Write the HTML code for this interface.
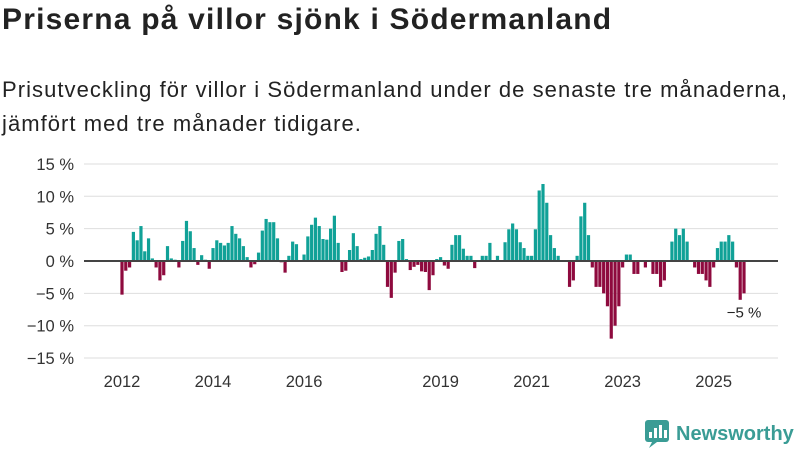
<!DOCTYPE html>
<html><head><meta charset="utf-8">
<style>
body{margin:0;background:#fff;width:800px;height:450px;overflow:hidden;font-family:"Liberation Sans",sans-serif;color:#222}
#title{position:absolute;left:2px;top:3px;font-size:30px;font-weight:bold;margin:0;letter-spacing:1.2px}
#sub{position:absolute;left:2px;top:73px;font-size:22px;line-height:34px;margin:0;color:#222;letter-spacing:1.05px}
svg{position:absolute;left:0;top:0}
</style></head><body>
<h1 id="title">Priserna på villor sjönk i Södermanland</h1>
<p id="sub">Prisutveckling för villor i Södermanland under de senaste tre månaderna,<br>jämfört med tre månader tidigare.</p>
<svg id="chart" width="800" height="450"></svg>
<script>
const values=[-5.2,-1.5,-1,4.5,3.2,5.4,1.5,3.5,0.4,-1,-3,-2.2,2.3,0.4,0.2,-1,3.1,6.2,4.6,2,-0.6,0.9,0.2,-1.2,2,3.2,2.8,2.4,2.8,5.4,4.2,3.5,2.3,0.6,-1,-0.5,1.3,4.7,6.5,6,6,
3.5,-0.2,-1.8,0.8,3,2.6,0,1,3.8,5.6,6.7,5.4,3.4,3.3,5,7,2.8,-1.7,-1.5,1.7,4.3,2.3,0.3,0.5,0.7,1.7,4.2,5.4,2.5,-4,-5.7,-1.8,3.1,3.4,0.3,-1.4,-0.9,-0.6,-1.6,-1.7,-4.5,
-2.2,0.3,0.6,-0.7,-1.2,2.5,4,4,1.9,0.8,0.8,-1.1,0,0.8,0.8,2.8,0,0.8,0,2.9,4.9,5.8,4.9,2.9,2,0.8,0.8,4.9,10.9,11.9,9,4,2,0.8,0,0,-4,-3,0.8,6.9,9,4,
-1,-4,-4,-5,-7,-12,-10,-7,-1,1,1,-2,-2,0,-1,0,-2,-2,-4,-3,0,3,5,4,5,3,0,-1,-2,-2,-3,-4,-1,2,3,3,4,3,-1,-6,-5];
const yTicks=[15,10,5,0,-5,-10,-15];
const yearLabels=[2012,2014,2016,2019,2021,2023,2025];
const startYear=2012;
const svg=document.getElementById('chart');
const NS='http://www.w3.org/2000/svg';
const x0=122,x1=744;
const step=(x1-x0)/(values.length-1);
const xs=i=>x0+i*step;
const y=v=>261-v*6.47;
function mk(t,a){const e=document.createElementNS(NS,t);for(const k in a)e.setAttribute(k,a[k]);svg.appendChild(e);return e;}
yTicks.forEach(v=>{
  const g=mk('line',{x1:84,x2:778,y1:y(v),y2:y(v),stroke:'#dedede','stroke-width':1});
  
  
  const t=mk('text',{x:74,y:y(v)+6,'text-anchor':'end','font-size':16.5,fill:'#333'});
  t.textContent=(v<0?'\u2212'+(-v):v)+' %';
  
  
});
values.forEach((v,i)=>{
  const top=Math.min(y(v),y(0)),h=Math.abs(y(v)-y(0));
  const r=mk('rect',{x:xs(i)-1.6,y:top,width:3.2,height:h,fill:v>=0?'#10a197':'#8e0a3e'});
  
  
});
const z=mk('line',{x1:84,x2:778,y1:y(0),y2:y(0),stroke:'#444','stroke-width':2});


yearLabels.forEach(yr=>{
  const t=mk('text',{x:xs((yr-startYear)*12),y:387,'text-anchor':'middle','font-size':16.5,fill:'#333'});
  t.textContent=yr;
  
  
});
const last=values[values.length-1];
const a=mk('text',{x:744,y:y(last)+24,'text-anchor':'middle','font-size':15,fill:'#222'});
a.textContent=(last<0?'\u2212'+(-last):last)+' %';


</script>
<svg width="800" height="450" style="pointer-events:none">
<rect x="645" y="420" width="24" height="22" rx="3" fill="#3a9c95"/>
<path d="M652 442 L649 448 L657 442 Z" fill="#3a9c95"/>
<rect x="649" y="432" width="3" height="6" fill="#fff"/><rect x="654" y="428" width="3" height="10" fill="#fff"/><rect x="659" y="425" width="3" height="13" fill="#fff"/><rect x="664" y="430" width="3" height="8" fill="#fff"/>
<text x="676" y="440" font-size="20" font-weight="bold" fill="#3a9c95" font-family="Liberation Sans, sans-serif">Newsworthy</text>
</svg>
</body></html>
